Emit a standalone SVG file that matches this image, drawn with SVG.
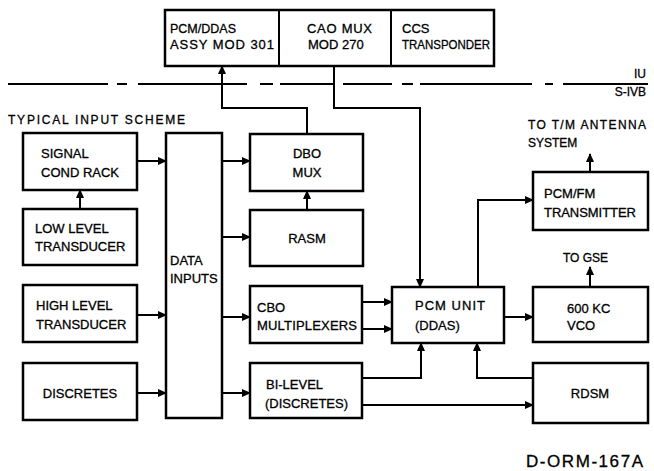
<svg xmlns="http://www.w3.org/2000/svg" width="654" height="471" viewBox="0 0 654 471">
<style>
.box{fill:#fff;stroke:#000;stroke-width:2.5}
.ln{fill:none;stroke:#000;stroke-width:2}
.sep{fill:none;stroke:#000;stroke-width:2}
text{font-family:"Liberation Sans",Arial,sans-serif;font-size:13px;fill:#000;stroke:#000;stroke-width:0.3}
.c{text-anchor:middle}
.sm{font-size:12px}
.big{font-size:17px}
</style>
<defs>
<marker id="ah" markerUnits="userSpaceOnUse" markerWidth="9" markerHeight="8" refX="8" refY="4" orient="auto">
<path d="M0,0 L9,4 L0,8 z" fill="#000"/>
</marker>
</defs>
<rect width="654" height="471" fill="#fff"/>
<g id="boundary">
<path class="sep" d="M8,84H108M117,84H127M138,84H247M260,84H273M280,84H335M343,84H392M402,84H413M420,84H532M545,84H553M563,84H648"/>
<text x="646" y="78" text-anchor="end" class="sm">IU</text>
<text x="646" y="96" text-anchor="end" class="sm">S-IVB</text>
</g>
<g id="top-box">
<rect class="box" x="165" y="10" width="329" height="56"/>
<line class="ln" x1="279" y1="10" x2="279" y2="66"/>
<line class="ln" x1="391" y1="10" x2="391" y2="66"/>
</g>
<g id="pcm-ddas"><text x="170" y="33" textLength="66" lengthAdjust="spacingAndGlyphs">PCM/DDAS</text><text x="170" y="49" textLength="104">ASSY MOD 301</text></g>
<g id="cao-mux"><text x="307" y="33" textLength="65">CAO MUX</text><text x="308" y="49">MOD 270</text></g>
<g id="ccs"><text x="402" y="33">CCS</text><text x="402" y="49" textLength="88" lengthAdjust="spacingAndGlyphs">TRANSPONDER</text></g>
<text x="8" y="124" class="sm" textLength="177">TYPICAL INPUT SCHEME</text>
<g id="signal-cond-rack"><rect class="box" x="23" y="133" width="114" height="57"/><text x="41" y="158">SIGNAL</text><text x="41" y="177">COND RACK</text></g>
<g id="low-level-transducer"><rect class="box" x="23" y="209" width="114" height="56"/><text x="35" y="233">LOW LEVEL</text><text x="35" y="251">TRANSDUCER</text></g>
<g id="high-level-transducer"><rect class="box" x="23" y="285" width="114" height="57"/><text x="36" y="310">HIGH LEVEL</text><text x="36" y="329">TRANSDUCER</text></g>
<g id="discretes"><rect class="box" x="23" y="363" width="114" height="57"/><text x="80" y="398" class="c">DISCRETES</text></g>
<g id="data-inputs"><rect class="box" x="166" y="133" width="56" height="285"/><text x="170" y="265">DATA</text><text x="170" y="283">INPUTS</text></g>
<g id="dbo-mux"><rect class="box" x="250" y="134" width="113" height="57"/><text x="307" y="158" class="c">DBO</text><text x="307" y="177" class="c">MUX</text></g>
<g id="rasm"><rect class="box" x="250" y="210" width="113" height="56"/><text x="307" y="243" class="c">RASM</text></g>
<g id="cbo-multiplexers"><rect class="box" x="250" y="286" width="112" height="57"/><text x="257" y="312">CBO</text><text x="257" y="330" textLength="100">MULTIPLEXERS</text></g>
<g id="bi-level"><rect class="box" x="250" y="363" width="112" height="55"/><text x="266" y="389">BI-LEVEL</text><text x="265" y="408" textLength="83">(DISCRETES)</text></g>
<g id="pcm-unit"><rect class="box" x="392" y="287" width="112" height="56"/><text x="415" y="310" textLength="70">PCM UNIT</text><text x="415" y="330">(DDAS)</text></g>
<g id="pcm-fm-transmitter"><rect class="box" x="533" y="172" width="115" height="58"/><text x="544" y="198">PCM/FM</text><text x="544" y="217" textLength="92">TRANSMITTER</text></g>
<g id="vco"><rect class="box" x="533" y="287" width="115" height="55"/><text x="567" y="313">600 KC</text><text x="567" y="330">VCO</text></g>
<g id="rdsm"><rect class="box" x="533" y="363" width="115" height="60"/><text x="590" y="398" class="c">RDSM</text></g>
<g id="labels">
<text x="528" y="129" class="sm" textLength="118">TO T/M  ANTENNA</text>
<text x="528" y="147" class="sm">SYSTEM</text>
<text x="563" y="262" class="sm">TO GSE</text>
<text x="526" y="467" class="big" textLength="117">D-ORM-167A</text>
</g>
<g id="connectors">
<path class="ln" marker-end="url(#ah)" d="M137,161H166"/>
<path class="ln" marker-end="url(#ah)" d="M80,209V190"/>
<path class="ln" marker-end="url(#ah)" d="M137,315H166"/>
<path class="ln" marker-end="url(#ah)" d="M137,393H166"/>
<path class="ln" marker-end="url(#ah)" d="M222,161H250"/>
<path class="ln" marker-end="url(#ah)" d="M222,237H250"/>
<path class="ln" marker-end="url(#ah)" d="M222,317H250"/>
<path class="ln" marker-end="url(#ah)" d="M222,393H250"/>
<path class="ln" marker-end="url(#ah)" d="M307,210V191"/>
<path class="ln" marker-end="url(#ah)" d="M307,134V108H222V66"/>
<path class="ln" marker-end="url(#ah)" d="M334,66V108H420V287"/>
<path class="ln" marker-end="url(#ah)" d="M362,302H392"/>
<path class="ln" marker-end="url(#ah)" d="M362,329H392"/>
<path class="ln" marker-end="url(#ah)" d="M362,378H421V343"/>
<path class="ln" marker-end="url(#ah)" d="M362,405H533"/>
<path class="ln" marker-end="url(#ah)" d="M533,378H477V343"/>
<path class="ln" marker-end="url(#ah)" d="M504,317H533"/>
<path class="ln" marker-end="url(#ah)" d="M478,287V200H533"/>
<path class="ln" marker-end="url(#ah)" d="M590,172V154"/>
<path class="ln" marker-end="url(#ah)" d="M590,287V267"/>
</g>
</svg>
